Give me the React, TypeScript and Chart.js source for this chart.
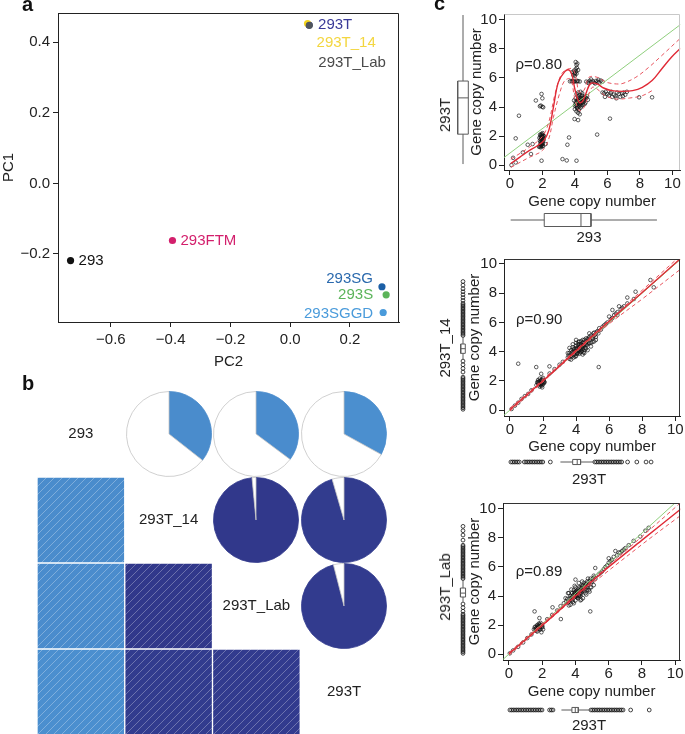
import React, { useEffect, useRef } from "react";
import { Chart, registerables } from "chart.js";

Chart.register(...registerables);

const FONT = "'Liberation Sans', Arial, Helvetica, sans-serif";
Chart.defaults.font.family = FONT;
Chart.defaults.font.size = 15;
Chart.defaults.color = "#222";

type XY = [number, number];

// ---------------- Panel a : PCA ----------------
const pcaSamples = ["293", "293FTM", "293T", "293T_14", "293T_Lab", "293SG", "293S", "293SGGD"];
const pcaPC2 = [-0.735, -0.394, 0.063, 0.058, 0.064, 0.307, 0.321, 0.311];
const pcaPC1 = [-0.219, -0.162, 0.449, 0.453, 0.448, -0.293, -0.316, -0.366];
const pcaXTicks = [-0.6, -0.4, -0.2, 0.0, 0.2];
const pcaYTicks = [-0.2, 0.0, 0.2, 0.4];

// ---------------- Panel b : correlation matrix ----------------
const corrSamples = ["293", "293T_14", "293T_Lab", "293T"];
const corrRow = [1, 2, 3, 2, 3, 3];
const corrCol = [0, 0, 0, 1, 1, 2];
const corrValue = [0.356, 0.352, 0.33, 0.985, 0.955, 0.96];

// ---------------- Panel c : copy number scatter plots ----------------
const cnTicks = [0, 2, 4, 6, 8, 10];
const rhoLabels = ["\u03c1=0.80", "\u03c1=0.90", "\u03c1=0.89"];

const cn293_vs_293T: XY[] = [
  [1.80, 1.25], [1.85, 1.30], [1.90, 1.22], [1.95, 1.35], [2.00, 1.28], [2.05, 1.32], [1.88, 1.45], [1.95, 1.55],
  [2.02, 1.62], [1.85, 1.70], [1.92, 1.78], [2.00, 1.85], [2.06, 1.90], [1.90, 1.95], [1.97, 2.00], [2.04, 2.05],
  [1.86, 2.10], [1.95, 2.15], [2.02, 2.20], [2.08, 1.75], [1.82, 1.88], [1.98, 1.70], [2.10, 2.00], [1.93, 1.40],
  [1.90, 1.30], [1.97, 1.45], [2.03, 1.50], [1.88, 1.60], [1.95, 1.65], [2.00, 1.75], [1.92, 1.90], [2.02, 1.95],
  [1.98, 2.10], [1.90, 2.05],
  [1.60, 4.45], [1.90, 4.10], [2.00, 4.02], [2.05, 3.98], [1.95, 4.90], [2.00, 4.60], [1.85, 4.05],
  [3.70, 5.77], [3.80, 5.78], [3.90, 5.76], [4.00, 5.80], [4.10, 5.75], [4.20, 5.78], [4.30, 5.76], [3.85, 5.80],
  [3.95, 5.74], [4.15, 5.80], [3.90, 6.20], [4.00, 6.35], [4.10, 6.30], [3.95, 6.50], [4.05, 6.60], [4.10, 6.90],
  [4.05, 7.10], [4.15, 7.00], [3.85, 6.40], [4.20, 6.55], [4.00, 6.15], [4.08, 6.45], [3.98, 6.28], [4.12, 6.70],
  [4.00, 4.10], [4.05, 4.20], [4.10, 4.30], [4.15, 4.00], [4.20, 4.40], [4.25, 4.50], [4.30, 4.20], [4.35, 4.60],
  [4.40, 4.30], [4.45, 4.80], [4.50, 4.50], [4.55, 4.40], [4.60, 4.70], [4.10, 4.90], [4.20, 5.00], [4.30, 4.85],
  [4.05, 4.60], [3.95, 4.45], [4.15, 3.90], [4.25, 3.80], [4.35, 3.95], [4.10, 3.70], [4.20, 3.60], [4.40, 4.05],
  [4.50, 4.15], [4.70, 4.60], [4.80, 4.50], [4.65, 4.30], [4.00, 3.85], [4.30, 3.50], [3.98, 3.17], [4.20, 3.10],
  [4.45, 4.95], [4.35, 5.05], [4.60, 4.20], [4.75, 4.75],
  [4.10, 4.10], [4.15, 4.20], [4.20, 4.25], [4.25, 4.30], [4.30, 4.40], [4.35, 4.30], [4.40, 4.50], [4.20, 4.60],
  [4.30, 4.65], [4.45, 4.60], [4.15, 4.45], [4.05, 4.35], [4.25, 4.05], [4.35, 4.15], [4.50, 4.30], [4.55, 4.60],
  [4.12, 3.95], [4.22, 4.75], [4.40, 4.75], [4.60, 4.50],
  [4.70, 5.75], [4.80, 5.70], [4.90, 5.80], [5.00, 5.72], [5.10, 5.78], [5.20, 5.68], [5.30, 5.80], [5.40, 5.75],
  [5.50, 5.70], [5.60, 5.82], [5.70, 5.75], [5.00, 5.90], [5.25, 5.62], [4.85, 5.65], [5.45, 5.88],
  [5.70, 5.00], [5.80, 4.95], [5.90, 5.05], [6.00, 4.90], [6.10, 4.80], [6.20, 4.95], [6.30, 4.70], [6.40, 4.85],
  [6.50, 4.75], [6.60, 5.00], [6.70, 4.90], [6.80, 4.70], [6.90, 4.95], [7.00, 5.00], [7.10, 4.85], [7.20, 5.05],
  [5.85, 4.70], [6.25, 5.05], [6.55, 4.60], [6.95, 4.75],
  [0.10, 0.00], [0.20, 0.50], [0.36, 0.18], [0.36, 1.84], [0.56, 3.40], [0.80, 0.87], [1.10, 1.40], [1.40, 1.45],
  [1.30, 0.76], [1.95, 0.30], [2.20, 1.45], [3.24, 0.41], [3.50, 0.32], [3.54, 1.40], [3.64, 1.90], [4.10, 0.30],
  [5.37, 2.10], [6.16, 3.20], [7.95, 4.67], [8.75, 4.67], [4.67, 4.67],
];
const fit1Linear: XY[] = [[-0.5, 0.40], [10.6, 9.77]];
const fit1Loess: XY[] = [
  [0.06, 0.11], [0.6, 0.53], [1.19, 0.99], [1.69, 1.33], [2.09, 1.68], [2.39, 2.37], [2.68, 3.98], [2.98, 5.70],
  [3.38, 6.44], [3.64, 6.55], [3.82, 6.23], [4.02, 5.13], [4.27, 4.32], [4.47, 4.39], [4.67, 4.90], [4.97, 5.63],
  [5.37, 5.59], [5.77, 5.31], [6.26, 5.13], [6.96, 5.08], [7.55, 5.13], [8.15, 5.36], [8.75, 5.82], [9.34, 6.62],
  [9.94, 7.43], [10.5, 8.05],
];
const fit1Upper: XY[] = [
  [0.06, 0.41], [1.19, 1.22], [1.99, 1.95], [2.39, 2.94], [2.78, 4.90], [3.18, 6.28], [3.58, 6.62], [3.88, 6.62],
  [4.08, 5.93], [4.27, 5.01], [4.57, 5.17], [4.87, 6.05], [5.37, 6.05], [5.96, 5.70], [6.56, 5.59], [6.96, 5.63],
  [7.75, 6.05], [8.55, 6.74], [9.34, 7.54], [10.5, 8.75],
];
const fit1Lower: XY[] = [
  [0.06, -0.16], [1.19, 0.53], [1.99, 0.99], [2.39, 1.79], [2.68, 3.29], [3.08, 5.01], [3.38, 5.82], [3.74, 5.93],
  [3.98, 4.67], [4.27, 3.75], [4.57, 3.98], [4.77, 4.62], [5.07, 5.36], [5.37, 5.24], [5.86, 4.78], [6.56, 4.55],
  [7.36, 4.62], [8.15, 4.78], [8.75, 5.13],
];

const cn293T_vs_293T14: XY[] = [
  [1.60, 1.70], [1.70, 1.80], [1.75, 1.95], [1.80, 1.60], [1.85, 2.00], [1.90, 1.85], [1.95, 2.10], [2.00, 1.75],
  [2.05, 1.95], [1.70, 2.05], [1.80, 2.15], [1.90, 1.65], [2.00, 2.20], [2.10, 1.90], [1.65, 1.90], [1.85, 1.75],
  [1.95, 1.55], [2.05, 2.05], [1.75, 1.70], [1.80, 1.95], [1.90, 2.05], [1.95, 1.80], [2.00, 1.95], [1.85, 1.85],
  [1.90, 1.75], [1.70, 1.90], [2.05, 1.85], [1.80, 1.80],
  [3.50, 3.60], [3.60, 3.90], [3.70, 3.70], [3.80, 4.00], [3.90, 3.80], [3.90, 4.20], [4.00, 4.00], [4.00, 4.40],
  [4.10, 3.90], [4.10, 4.20], [4.20, 4.10], [4.20, 4.50], [4.30, 4.30], [4.30, 4.00], [4.40, 4.60], [4.40, 4.20],
  [4.50, 4.40], [4.50, 4.80], [4.60, 4.50], [4.70, 4.90], [4.80, 4.60], [4.80, 5.00], [4.90, 5.10], [5.00, 4.90],
  [5.10, 5.30], [5.20, 5.00], [5.30, 5.40], [3.60, 3.50], [3.80, 4.30], [4.00, 3.70], [4.20, 4.70], [4.60, 4.20],
  [4.00, 4.60], [4.30, 4.70], [3.70, 4.10], [4.10, 4.50], [4.50, 4.10], [4.90, 4.60], [5.40, 5.60], [5.10, 4.70],
  [3.85, 3.60], [4.05, 3.85], [4.25, 4.35], [4.45, 3.95], [3.75, 3.85], [4.15, 4.65], [4.35, 4.45], [4.65, 4.75],
  [3.55, 3.75], [3.65, 3.65], [3.75, 3.95], [3.85, 3.75], [3.95, 4.05], [3.95, 3.65], [4.05, 4.25], [4.05, 3.95],
  [4.15, 4.05], [4.15, 4.35], [4.25, 4.15], [4.25, 3.95], [4.35, 4.35], [4.35, 4.05], [4.45, 4.45], [4.45, 4.65],
  [4.55, 4.55], [4.55, 4.25], [4.65, 4.65], [4.65, 4.45], [4.75, 4.85], [4.75, 4.55], [4.85, 4.85], [4.95, 4.95],
  [5.05, 5.05], [5.05, 5.25], [5.15, 5.15], [5.25, 5.35], [5.35, 5.25], [3.85, 4.15], [4.10, 4.10], [4.20, 4.25],
  [4.30, 4.50], [4.40, 4.40], [4.00, 4.20], [4.20, 3.85], [4.40, 4.80], [4.60, 4.90], [3.90, 4.00], [4.30, 4.15],
  [3.60, 4.25], [3.80, 4.50], [4.00, 4.80], [4.50, 3.90], [4.70, 4.10], [4.90, 4.35], [5.20, 4.80], [3.50, 3.90],
  [4.40, 3.80], [3.70, 3.45], [4.80, 5.25], [5.00, 4.65],
  [5.50, 5.50], [5.70, 5.80], [5.90, 6.00], [6.00, 6.40], [6.20, 6.30], [6.20, 6.85], [6.40, 6.60], [6.60, 7.10],
  [6.80, 7.00], [7.10, 7.30], [7.10, 7.70], [7.50, 7.60], [7.60, 8.10], [8.50, 8.90], [8.70, 8.40], [6.50, 6.50],
  [5.60, 5.70], [5.80, 5.90], [6.10, 6.20], [6.30, 6.50], [6.50, 6.70], [6.70, 6.90], [6.90, 7.10],
  [0.10, 0.07], [0.30, 0.30], [0.50, 0.50], [0.70, 0.76], [0.90, 0.95], [1.10, 1.10], [1.30, 1.35], [2.40, 2.50],
  [2.70, 2.80], [3.00, 3.10], [3.20, 3.30],
  [0.50, 3.17], [1.59, 2.94], [2.39, 2.99], [1.89, 2.48], [5.37, 2.94],
];
const fit2Linear: XY[] = [[-0.5, -0.5], [10.6, 10.6]];
const fit2Loess: XY[] = [[0, 0.02], [2, 2.0], [4, 4.05], [6, 6.08], [8, 8.05], [10.5, 10.55]];
const fit2Upper: XY[] = [[0, 0.12], [2, 2.1], [4, 4.12], [6, 6.15], [8, 8.2], [10.5, 10.75]];
const fit2Lower: XY[] = [[0, -0.08], [2, 1.93], [4, 3.97], [6, 5.9], [8, 7.6], [10.5, 9.8]];

const cn293T_vs_293TLab: XY[] = [
  [1.50, 1.70], [1.60, 1.90], [1.65, 1.60], [1.70, 2.00], [1.75, 1.80], [1.80, 2.10], [1.85, 1.70], [1.90, 1.95],
  [1.95, 1.50], [2.00, 1.85], [1.70, 1.55], [1.80, 1.90], [1.90, 2.15], [2.00, 2.00], [1.60, 1.75], [1.85, 2.05],
  [1.55, 1.85], [2.05, 1.70], [1.65, 1.80], [1.75, 1.95], [1.85, 1.85], [1.90, 1.70], [1.95, 2.00], [1.80, 1.75],
  [1.70, 1.85], [2.00, 1.90], [1.60, 1.65], [1.88, 1.95],
  [3.30, 3.50], [3.50, 3.80], [3.60, 3.60], [3.70, 4.00], [3.80, 3.70], [3.80, 4.20], [3.90, 3.90], [3.90, 4.40],
  [4.00, 4.10], [4.00, 3.70], [4.10, 4.30], [4.10, 3.90], [4.20, 4.60], [4.20, 4.10], [4.30, 4.40], [4.30, 4.00],
  [4.40, 4.70], [4.40, 4.30], [4.50, 4.50], [4.50, 4.90], [4.60, 4.60], [4.70, 5.00], [4.80, 4.80], [4.90, 5.20],
  [5.00, 5.00], [5.10, 5.40], [5.20, 5.20], [3.60, 4.20], [4.00, 4.60], [4.60, 4.20], [4.80, 4.40], [3.90, 3.50],
  [4.20, 4.90], [4.30, 3.70], [4.70, 4.40], [3.70, 3.40], [4.00, 5.13], [5.19, 5.93], [4.40, 5.00], [4.90, 4.60],
  [3.75, 3.85], [3.95, 4.20], [4.15, 4.45], [4.35, 4.15], [4.55, 4.70], [4.05, 3.95], [4.25, 4.25], [4.65, 4.85],
  [3.45, 3.65], [3.55, 3.55], [3.65, 3.85], [3.75, 3.75], [3.85, 4.05], [3.85, 3.60], [3.95, 4.25], [3.95, 3.95],
  [4.05, 4.05], [4.05, 4.35], [4.15, 4.15], [4.15, 3.85], [4.25, 4.35], [4.25, 4.05], [4.35, 4.55], [4.35, 4.25],
  [4.45, 4.45], [4.45, 4.75], [4.55, 4.65], [4.55, 4.35], [4.65, 4.85], [4.75, 4.75], [4.85, 5.05], [4.95, 4.95],
  [5.05, 5.20], [5.15, 5.30], [3.80, 3.95], [4.00, 4.00], [4.10, 4.20], [4.20, 4.35], [4.30, 4.30], [4.40, 4.50],
  [4.50, 4.60], [4.60, 4.50], [3.90, 4.10], [4.20, 4.00], [4.30, 4.60], [4.70, 4.60], [4.00, 4.30], [4.10, 4.00],
  [3.55, 4.20], [3.75, 4.45], [3.95, 4.70], [4.45, 3.85], [4.65, 4.10], [4.85, 4.30], [5.10, 4.75], [3.40, 3.85],
  [4.35, 3.75], [3.60, 3.35], [4.75, 5.20], [4.95, 4.60],
  [5.40, 5.50], [5.60, 5.70], [5.80, 6.00], [6.00, 6.30], [6.00, 6.60], [6.20, 6.50], [6.40, 7.10], [6.50, 6.80],
  [6.80, 7.10], [7.00, 7.30], [7.20, 7.50], [7.50, 7.80], [7.90, 8.10], [8.20, 8.50], [8.40, 8.70], [6.60, 7.00],
  [5.50, 5.60], [5.70, 5.85], [5.90, 6.10], [6.10, 6.40], [6.30, 6.70], [6.70, 7.00], [6.90, 7.20],
  [0.05, 0.05], [0.25, 0.25], [0.55, 0.50], [0.85, 0.80], [1.10, 1.10], [1.35, 1.35], [2.30, 2.40], [2.60, 2.70],
  [2.90, 3.00], [3.10, 3.30],
  [1.54, 2.94], [1.83, 2.48], [2.62, 3.22], [3.12, 2.41], [4.89, 2.94],
];
const fit3Linear: XY[] = [[-0.5, -0.52], [10.6, 11.05]];
const fit3Loess: XY[] = [[0, 0.02], [2, 1.98], [4, 4.0], [6, 6.0], [8, 7.85], [10.5, 10.15]];
const fit3Upper: XY[] = [[0, 0.1], [4, 4.1], [8, 8.1], [10.5, 10.6]];
const fit3Lower: XY[] = [[0, -0.08], [4, 3.9], [8, 7.55], [10.5, 9.7]];

// box plots: [lower whisker, Q1, median, Q3, upper whisker]
const box1Left = [0.07, 2.13, 4.63, 5.79, 10.34];
const box1Bottom = [0.04, 2.05, 4.25, 4.85, 8.8];
const box2Left = [3.42, 3.88, 4.2, 4.52, 5.02];
const box2Bottom = [3.0, 3.73, 4.0, 4.2, 5.0];
const box3Left = [3.6, 3.93, 4.2, 4.55, 5.1];
const box3Bottom = [3.1, 3.72, 3.92, 4.1, 4.8];
const out1Left: number[] = [];
const out1Bottom: number[] = [];
const out2Left = [
  8.8, 8.55, 8.3, 8.1, 7.9, 7.7, 7.5, 7.3, 7.2, 7.1, 7.0, 6.9, 6.8, 6.7, 6.6, 6.5, 6.4, 6.3, 6.2, 6.1, 6.0, 5.9,
  5.8, 5.7, 5.6, 5.5, 5.4, 5.3, 5.2, 5.1, 3.35, 3.1, 2.85, 2.6, 2.25, 2.15, 2.05, 1.95, 1.85, 1.75, 1.65, 1.55,
  1.45, 1.35, 1.25, 1.15, 1.05, 0.95, 0.85, 0.75, 0.65, 0.55, 0.45, 0.35, 0.25, 0.15, 0.05,
];
const out2Bottom = [
  0.05, 0.15, 0.25, 0.35, 0.45, 0.55, 0.85, 0.95, 1.05, 1.15, 1.25, 1.35, 1.45, 1.55, 1.65, 1.75, 1.85, 1.95,
  2.4, 5.05, 5.15, 5.25, 5.35, 5.45, 5.55, 5.65, 5.75, 5.85, 5.95, 6.05, 6.15, 6.25, 6.35, 6.45, 6.55, 6.65,
  7.0, 7.55, 8.1, 8.4,
];
const out3Left = [
  8.8, 8.5, 8.2, 7.85, 7.5, 7.4, 7.3, 7.2, 7.1, 7.0, 6.9, 6.8, 6.7, 6.6, 6.5, 6.4, 6.3, 6.2, 6.1, 6.0, 5.9, 5.8,
  5.7, 5.6, 5.5, 5.4, 5.3, 5.2, 3.45, 3.2, 2.95, 2.75, 2.65, 2.55, 2.45, 2.35, 2.25, 2.15, 2.05, 1.95, 1.85,
  1.75, 1.65, 1.55, 1.45, 1.35, 1.25, 1.15, 1.05, 0.95, 0.85, 0.75, 0.65, 0.55, 0.45, 0.35, 0.25, 0.15, 0.05,
];
const out3Bottom = [
  0.05, 0.15, 0.25, 0.35, 0.45, 0.55, 0.65, 0.75, 0.85, 0.95, 1.05, 1.15, 1.25, 1.35, 1.45, 1.55, 1.65, 1.75,
  1.85, 1.95, 2.4, 2.5, 2.6, 4.85, 4.95, 5.05, 5.15, 5.25, 5.35, 5.45, 5.55, 5.65, 5.75, 5.85, 5.95, 6.05,
  6.15, 6.25, 6.35, 6.45, 6.55, 6.65, 6.75, 7.2, 8.3,
];

// ---------------- styles ----------------
const pcaPointColors = ["#111111", "#d31f6c", "#2e3192", "#f4d41c", "#50555c", "#1c5fa6", "#5bb45a", "#4a9bdb"];
const pcaTextColors = ["#111111", "#d31f6c", "#3a3a98", "#f3d640", "#4a4a4a", "#2a69ad", "#5bb45a", "#4a9bdb"];
const pcaLabelDx = [8, 8, 9, 9, 9, -9, -13, -10];
const pcaLabelDy = [0, 0, 0, 19, 38, -8, 0, 1];

const axisGrid = { display: true, drawOnChartArea: false, drawTicks: true, tickLength: 5, color: "#222", lineWidth: 1 };
const axisBorder = { display: true, color: "#222", width: 1 };

const B_LEFT = 37;
const B_TOP = 391;
const CELL_W = 87.75;
const CELL_H = 86;

function fmtSigned(v: any) {
  const n = Number(v);
  if (Math.abs(n) < 1e-9) return "0.0";
  return (n < 0 ? "\u2212" : "") + Math.abs(n).toFixed(1);
}

function corrColor(v: number) {
  const t = Math.max(0, Math.min(1, (v - 0.33) / (0.985 - 0.33)));
  const a = [75, 143, 207];
  const b = [49, 56, 139];
  return "rgb(" + a.map((x, i) => Math.round(x + (b[i] - x) * t)).join(",") + ")";
}

function hatch(color: string) {
  const s = 8;
  const c = document.createElement("canvas");
  c.width = s;
  c.height = s;
  const g = c.getContext("2d") as CanvasRenderingContext2D;
  g.fillStyle = color;
  g.fillRect(0, 0, s, s);
  g.strokeStyle = "rgba(255,255,255,0.42)";
  g.lineWidth = 0.7;
  g.beginPath();
  g.moveTo(0, s);
  g.lineTo(s, 0);
  g.moveTo(-1, 1);
  g.lineTo(1, -1);
  g.moveTo(s - 1, s + 1);
  g.lineTo(s + 1, s - 1);
  g.stroke();
  return g.createPattern(c, "repeat");
}

const framePlugin = {
  id: "frame",
  afterDraw(chart: any, _a: any, opts: any) {
    const { ctx, chartArea: a } = chart;
    const l = Math.round(a.left) + 0.5;
    const r = Math.round(a.right) - 0.5;
    const t = Math.round(a.top) + 0.5;
    ctx.save();
    ctx.strokeStyle = (opts && opts.color) || "#222";
    ctx.lineWidth = 1;
    ctx.beginPath();
    ctx.moveTo(l, t);
    ctx.lineTo(r, t);
    ctx.lineTo(r, Math.round(a.bottom));
    ctx.stroke();
    ctx.restore();
  },
};

const pcaLabelPlugin = {
  id: "pcaLabels",
  afterDatasetsDraw(chart: any) {
    const { ctx } = chart;
    const meta = chart.getDatasetMeta(0);
    ctx.save();
    ctx.font = "15px " + FONT;
    ctx.textBaseline = "middle";
    pcaSamples.forEach((name, i) => {
      const el = meta.data[i];
      ctx.fillStyle = pcaTextColors[i];
      ctx.textAlign = pcaLabelDx[i] < 0 ? "right" : "left";
      ctx.fillText(name, el.x + pcaLabelDx[i], el.y + pcaLabelDy[i]);
    });
    ctx.restore();
  },
};

const rhoPlugin = {
  id: "rho",
  afterDatasetsDraw(chart: any, _a: any, opts: any) {
    const { ctx, scales } = chart;
    ctx.save();
    ctx.font = "15px " + FONT;
    ctx.fillStyle = "#222";
    ctx.textAlign = "left";
    ctx.textBaseline = "middle";
    ctx.fillText(opts.text, scales.x.getPixelForValue(opts.x), scales.y.getPixelForValue(opts.y));
    ctx.restore();
  },
};

const diagLabelPlugin = {
  id: "diagLabels",
  afterDatasetsDraw(chart: any) {
    const { ctx, scales } = chart;
    ctx.save();
    ctx.font = "15px " + FONT;
    ctx.fillStyle = "#222";
    ctx.textAlign = "center";
    ctx.textBaseline = "middle";
    corrSamples.forEach((name, i) => {
      ctx.fillText(name, scales.x.getPixelForValue(i), scales.y.getPixelForValue(i + 0.5));
    });
    ctx.restore();
  },
};

const baseOpts = {
  responsive: false,
  animation: false,
  events: [],
};

function pcaConfig(): any {
  return {
    type: "scatter",
    data: {
      datasets: [
        {
          data: pcaPC2.map((x, i) => ({ x, y: pcaPC1[i] })),
          pointRadius: 3.6,
          pointBackgroundColor: pcaPointColors,
          pointBorderColor: pcaPointColors,
          pointBorderWidth: 0,
        },
      ],
    },
    options: {
      ...baseOpts,
      layout: { padding: { top: 13, right: 11, left: 0, bottom: 0 } },
      plugins: { legend: { display: false }, tooltip: { enabled: false }, frame: { color: "#222" } },
      scales: {
        x: {
          type: "linear",
          min: -0.777,
          max: 0.364,
          afterBuildTicks: (s: any) => {
            s.ticks = pcaXTicks.map((v) => ({ value: v }));
          },
          afterFit: (s: any) => {
            s.height = 49;
          },
          ticks: { padding: 4, callback: fmtSigned, color: "#222", font: { size: 15 } },
          grid: axisGrid,
          border: axisBorder,
          title: { display: true, text: "PC2", padding: 0, color: "#222", font: { size: 15 } },
        },
        y: {
          type: "linear",
          min: -0.393,
          max: 0.483,
          afterBuildTicks: (s: any) => {
            s.ticks = pcaYTicks.map((v) => ({ value: v }));
          },
          afterFit: (s: any) => {
            s.width = 58;
          },
          ticks: { padding: 3, callback: fmtSigned, color: "#222", font: { size: 15 } },
          grid: axisGrid,
          border: axisBorder,
          title: { display: true, text: "PC1", padding: 0, color: "#222", font: { size: 15 } },
        },
      },
    },
    plugins: [framePlugin, pcaLabelPlugin],
  };
}

function findPair(r: number, c: number) {
  for (let k = 0; k < corrRow.length; k++) if (corrRow[k] === r && corrCol[k] === c) return k;
  return -1;
}

function corrSquaresConfig(): any {
  const rows = [1, 2, 3];
  return {
    type: "bar",
    data: {
      labels: corrSamples,
      datasets: rows.map((r) => ({
        data: corrSamples.map((_, c) => (findPair(r, c) >= 0 ? [r, r + 1] : null)),
        backgroundColor: corrSamples.map((_, c) => {
          const k = findPair(r, c);
          return k >= 0 ? hatch(corrColor(corrValue[k])) : "rgba(0,0,0,0)";
        }),
        borderColor: "rgba(255,255,255,0.28)",
        borderWidth: 1,
        borderSkipped: false,
        grouped: false,
        barPercentage: 1,
        categoryPercentage: 1,
      })),
    },
    options: {
      ...baseOpts,
      layout: { padding: 0 },
      plugins: { legend: { display: false }, tooltip: { enabled: false } },
      scales: {
        x: { display: false },
        y: { display: false, min: 0, max: 4, reverse: true },
      },
    },
    plugins: [diagLabelPlugin],
  };
}

function pieConfig(v: number): any {
  const col = corrColor(v);
  return {
    type: "pie",
    data: {
      datasets: [
        {
          data: [v, 1 - v],
          backgroundColor: [col, "#ffffff"],
          borderColor: [col, "#c4c4c4"],
          borderWidth: 0.8,
        },
      ],
    },
    options: {
      ...baseOpts,
      radius: 42.5,
      layout: { padding: 0 },
      plugins: { legend: { display: false }, tooltip: { enabled: false } },
    },
  };
}

const lineDs = (pts: XY[], color: string, width: number, dash: number[], tension: number) => ({
  data: pts.map(([x, y]) => ({ x, y })),
  showLine: true,
  borderColor: color,
  borderWidth: width,
  borderDash: dash,
  pointRadius: 0,
  tension,
  fill: false,
});

function scatterConfig(p: any): any {
  return {
    type: "scatter",
    data: {
      datasets: [
        lineDs(p.loess, "#e02a36", 1.4, [], 0.35),
        lineDs(p.upper, "#e8555f", 1, [4, 3], 0.35),
        lineDs(p.lower, "#e8555f", 1, [4, 3], 0.35),
        lineDs(p.linear, "#8fcf7d", 1, [], 0),
        {
          data: p.points.map(([x, y]: XY) => ({ x, y })),
          pointRadius: 1.8,
          pointBorderWidth: 0.8,
          pointBorderColor: "rgba(20,20,20,0.85)",
          pointBackgroundColor: "rgba(255,255,255,0)",
        },
      ],
    },
    options: {
      ...baseOpts,
      layout: { padding: { top: p.top - p.canvasTop, right: 685 - p.right, left: 0, bottom: 0 } },
      plugins: {
        legend: { display: false },
        tooltip: { enabled: false },
        frame: { color: p.frameColor },
        rho: { text: p.rho, x: p.rhoAt[0], y: p.rhoAt[1] },
      },
      scales: {
        x: {
          type: "linear",
          min: p.xMin,
          max: p.xMax,
          afterBuildTicks: (s: any) => {
            s.ticks = cnTicks.map((v) => ({ value: v }));
          },
          afterFit: (s: any) => {
            s.height = p.canvasBottom - p.bottom;
          },
          ticks: { padding: 0, color: "#222", font: { size: 15 } },
          grid: axisGrid,
          border: axisBorder,
          title: { display: true, text: "Gene copy number", padding: 0, color: "#222", font: { size: 15 } },
        },
        y: {
          type: "linear",
          min: p.yMin,
          max: p.yMax,
          afterBuildTicks: (s: any) => {
            s.ticks = cnTicks.map((v) => ({ value: v }));
          },
          afterFit: (s: any) => {
            s.width = p.left - p.canvasLeft;
          },
          ticks: { padding: 2, color: "#222", font: { size: 15 } },
          grid: axisGrid,
          border: axisBorder,
          title: { display: true, text: "Gene copy number", padding: 0, color: "#222", font: { size: 15 } },
        },
      },
    },
    plugins: [framePlugin, rhoPlugin],
  };
}

function boxConfig(stats: number[], outliers: number[], vertical: boolean, min: number, max: number, half: number, pad: number): any {
  const [lo, q1, med, q3, hi] = stats;
  const P = (a: number, b: number) => (vertical ? { x: a, y: b } : { x: b, y: a });
  const seg = (pts: any[]) => ({
    data: pts,
    showLine: true,
    borderColor: "#5a5a5a",
    borderWidth: 1,
    pointRadius: 0,
    fill: false,
  });
  const valueScale = { type: "linear", min, max, display: false };
  const crossScale = { type: "linear", min: -10, max: 10, display: false };
  return {
    type: "scatter",
    data: {
      datasets: [
        seg([P(0, lo), P(0, q1)]),
        seg([P(0, q3), P(0, hi)]),
        seg([P(-half, q1), P(half, q1), P(half, q3), P(-half, q3), P(-half, q1)]),
        seg([P(-half, med), P(half, med)]),
        {
          data: outliers.map((v) => P(0, v)),
          pointRadius: 1.9,
          pointBorderWidth: 0.9,
          pointBorderColor: "rgba(25,25,25,0.9)",
          pointBackgroundColor: "rgba(255,255,255,0)",
        },
      ],
    },
    options: {
      ...baseOpts,
      layout: { padding: vertical ? { top: pad, bottom: pad, left: 0, right: 0 } : { left: pad, right: pad, top: 0, bottom: 0 } },
      plugins: { legend: { display: false }, tooltip: { enabled: false } },
      scales: vertical ? { x: crossScale, y: valueScale } : { x: valueScale, y: crossScale },
    },
  };
}

function ChartCanvas({ left, top, width, height, make }: any) {
  const ref = useRef<HTMLCanvasElement>(null);
  useEffect(() => {
    const chart = new Chart(ref.current as HTMLCanvasElement, make());
    return () => chart.destroy();
  }, []);
  return (
    <canvas
      ref={ref}
      width={width}
      height={height}
      style={{ position: "absolute", left, top, width, height, display: "block" }}
    />
  );
}

const cPlots = [
  {
    points: cn293_vs_293T, loess: fit1Loess, upper: fit1Upper, lower: fit1Lower, linear: fit1Linear,
    left: 504, right: 685, top: 14, bottom: 170, canvasLeft: 468, canvasTop: 0, canvasBottom: 211,
    xMin: -0.36, xMax: 10.48, yMin: -0.34, yMax: 10.41, rho: rhoLabels[0], rhoAt: [0.35, 6.9],
    frameColor: "#c8c8c8",
    leftBox: box1Left, leftOut: out1Left, leftX: 463, leftHalf: 5.3,
    bottomBox: box1Bottom, bottomOut: out1Bottom, bottomY: 220, bottomHalf: 6.5,
    leftLabel: { text: "293T", x: 445, y: 115 }, bottomLabel: { text: "293", x: 589, y: 237 },
  },
  {
    points: cn293T_vs_293T14, loess: fit2Loess, upper: fit2Upper, lower: fit2Lower, linear: fit2Linear,
    left: 504, right: 683, top: 259, bottom: 416, canvasLeft: 466, canvasTop: 245, canvasBottom: 456,
    xMin: -0.36, xMax: 10.3, yMin: -0.41, yMax: 10.34, rho: rhoLabels[1], rhoAt: [0.36, 6.16],
    frameColor: "#333",
    leftBox: box2Left, leftOut: out2Left, leftX: 463, leftHalf: 4.5,
    bottomBox: box2Bottom, bottomOut: out2Bottom, bottomY: 462, bottomHalf: 5,
    leftLabel: { text: "293T_14", x: 445, y: 348 }, bottomLabel: { text: "293T", x: 589, y: 479 },
  },
  {
    points: cn293T_vs_293TLab, loess: fit3Loess, upper: fit3Upper, lower: fit3Lower, linear: fit3Linear,
    left: 503, right: 683, top: 503, bottom: 660, canvasLeft: 466, canvasTop: 489, canvasBottom: 701,
    xMin: -0.36, xMax: 10.3, yMin: -0.41, yMax: 10.41, rho: rhoLabels[2], rhoAt: [0.41, 5.66],
    frameColor: "#333",
    leftBox: box3Left, leftOut: out3Left, leftX: 463, leftHalf: 5,
    bottomBox: box3Bottom, bottomOut: out3Bottom, bottomY: 710, bottomHalf: 5,
    leftLabel: { text: "293T_Lab", x: 445, y: 587 }, bottomLabel: { text: "293T", x: 589, y: 725 },
  },
];

const textStyle: any = {
  position: "absolute",
  fontFamily: FONT,
  fontSize: 15,
  lineHeight: "18px",
  color: "#222",
  whiteSpace: "nowrap",
};

function Letter({ ch, x, top }: any) {
  return (
    <div style={{ position: "absolute", left: x, top, fontFamily: FONT, fontWeight: "bold", fontSize: 20, lineHeight: "20px", color: "#111" }}>
      {ch}
    </div>
  );
}

export default function App() {
  const pies = corrRow.map((r, k) => ({ row: corrCol[k], col: r, v: corrValue[k] }));
  return (
    <div style={{ position: "absolute", left: 0, top: 0, width: 685, height: 734, overflow: "hidden", background: "#fff" }}>
      <ChartCanvas left={0} top={0} width={410} height={371} make={pcaConfig} />

      <ChartCanvas left={B_LEFT} top={B_TOP} width={Math.round(CELL_W * 4)} height={CELL_H * 4} make={corrSquaresConfig} />
      {pies.map((p, i) => {
        const cx = B_LEFT + CELL_W * (p.col + 0.5);
        const cy = B_TOP + CELL_H * (p.row + 0.5);
        return <ChartCanvas key={"pie" + i} left={Math.round(cx - 44)} top={Math.round(cy - 44)} width={88} height={88} make={() => pieConfig(p.v)} />;
      })}

      {cPlots.map((p, i) => (
        <React.Fragment key={"c" + i}>
          <ChartCanvas left={p.canvasLeft} top={p.canvasTop} width={685 - p.canvasLeft} height={p.canvasBottom - p.canvasTop} make={() => scatterConfig(p)} />
          <ChartCanvas
            left={p.leftX - 10}
            top={p.top - 6}
            width={20}
            height={p.bottom - p.top + 12}
            make={() => boxConfig(p.leftBox, p.leftOut, true, p.yMin, p.yMax, p.leftHalf, 6)}
          />
          <ChartCanvas
            left={p.left - 6}
            top={p.bottomY - 10}
            width={p.right - p.left + 12}
            height={20}
            make={() => boxConfig(p.bottomBox, p.bottomOut, false, p.xMin, p.xMax, p.bottomHalf, 6)}
          />
          <div style={{ ...textStyle, left: p.leftLabel.x, top: p.leftLabel.y, transform: "translate(-50%,-50%) rotate(-90deg)" }}>
            {p.leftLabel.text}
          </div>
          <div style={{ ...textStyle, left: p.bottomLabel.x, top: p.bottomLabel.y, transform: "translate(-50%,-50%)" }}>
            {p.bottomLabel.text}
          </div>
        </React.Fragment>
      ))}

      <Letter ch="a" x={22} top={-6} />
      <Letter ch="b" x={22} top={373} />
      <Letter ch="c" x={434} top={-7} />
    </div>
  );
}
